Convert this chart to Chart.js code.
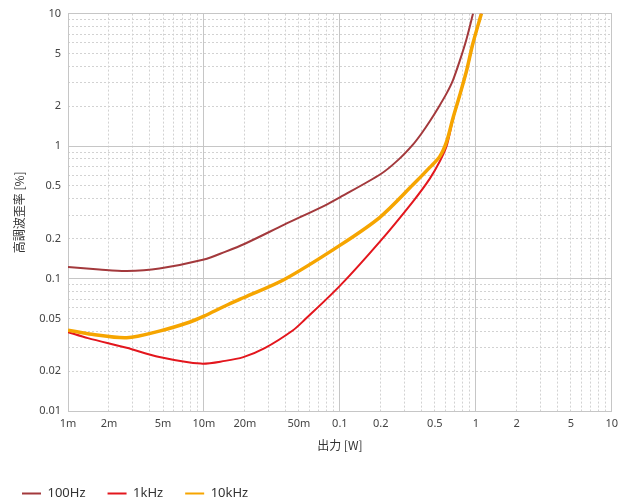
<!DOCTYPE html>
<html>
<head>
<meta charset="utf-8">
<script src="https://cdn.jsdelivr.net/npm/chart.js@4.4.1/dist/chart.umd.min.js"></script>
<style>
  body { margin: 0; background: #fff; }
  canvas { display: block; }
</style>
</head>
<body>
<canvas id="thdChart" width="624" height="500"></canvas>
<script>
// distortion vs output power
const seriesNames = ['100Hz', '1kHz', '10kHz'];
const seriesColors = ['#a3393c', '#e3161d', '#f6a500'];
const seriesWidths = [2, 2, 3.5];

const x100Hz = [0.001, 0.0017, 0.0027, 0.0047, 0.01, 0.0143, 0.02, 0.039, 0.078, 0.1, 0.2, 0.27, 0.346, 0.4, 0.459, 0.53, 0.61, 0.68, 0.762, 0.85, 0.955];
const y100Hz = [0.122, 0.117, 0.114, 0.119, 0.139, 0.159, 0.183, 0.255, 0.357, 0.41, 0.615, 0.79, 1.03, 1.25, 1.54, 1.95, 2.5, 3.15, 4.4, 6.3, 10];

const x1kHz = [0.001, 0.0014, 0.0027, 0.0047, 0.0095, 0.0143, 0.0195, 0.028, 0.045, 0.0553, 0.1, 0.197, 0.346, 0.459, 0.544, 0.61, 0.68, 0.76, 0.855, 0.95, 1.1];
const y1kHz = [0.0394, 0.0355, 0.030, 0.0256, 0.0228, 0.0239, 0.0255, 0.0298, 0.0405, 0.049, 0.088, 0.19, 0.383, 0.568, 0.767, 1.0, 1.6, 2.38, 3.65, 5.85, 10];

const x10kHz = [0.001, 0.0015, 0.0027, 0.0047, 0.0079, 0.01, 0.0143, 0.0195, 0.039, 0.1, 0.197, 0.346, 0.459, 0.544, 0.61, 0.68, 0.76, 0.855, 0.95, 1.1];
const y10kHz = [0.0408, 0.0379, 0.0357, 0.0401, 0.047, 0.052, 0.062, 0.0716, 0.0984, 0.178, 0.29, 0.512, 0.69, 0.836, 1.08, 1.63, 2.4, 3.7, 5.9, 10];

const xTickValues = [0.001, 0.002, 0.005, 0.01, 0.02, 0.05, 0.1, 0.2, 0.5, 1, 2, 5, 10];
const xTickLabels = ['1m', '2m', '5m', '10m', '20m', '50m', '0.1', '0.2', '0.5', '1', '2', '5', '10'];
const yTickValues = [0.01, 0.02, 0.05, 0.1, 0.2, 0.5, 1, 2, 5, 10];
const yTickLabels = ['0.01', '0.02', '0.05', '0.1', '0.2', '0.5', '1', '2', '5', '10'];
const xDecades = [0.001, 0.01, 0.1, 1, 10];
const yDecades = [0.01, 0.1, 1, 10];

const xTitle = '出力 [W]';
const yTitle = '高調波歪率 [%]';

function toPoints(xs, ys) {
  return xs.map((x, i) => ({ x: x, y: ys[i] }));
}

// 1..9 per decade, for the dotted minor grid
function gridValues(decades) {
  const out = [];
  decades.forEach((d, k) => {
    const steps = k === decades.length - 1 ? 1 : 9;
    for (let m = 1; m <= steps; m++) out.push(m * d);
  });
  return out;
}

function findIndex(list, value) {
  return list.findIndex(v => Math.abs(v - value) < v * 1e-6);
}

function labelFor(values, labels) {
  return function (value) {
    const i = findIndex(values, value);
    return i >= 0 ? labels[i] : '';
  };
}

function minorColor(decades) {
  return function (c) {
    if (!c.tick) return 'rgba(0,0,0,0)';
    return findIndex(decades, c.tick.value) >= 0 ? 'rgba(0,0,0,0)' : '#d2d2d2';
  };
}

const tickFont = { family: "'Noto Sans', sans-serif", size: 11 };
const titleFont = { family: "'Noto Sans CJK JP', sans-serif", size: 12 };

const series = [
  toPoints(x100Hz, y100Hz),
  toPoints(x1kHz, y1kHz),
  toPoints(x10kHz, y10kHz)
];

const datasets = series.map((pts, i) => ({
  label: seriesNames[i],
  data: pts,
  borderColor: seriesColors[i],
  backgroundColor: seriesColors[i],
  borderWidth: seriesWidths[i],
  pointRadius: 0,
  tension: 0.3,
  order: i === 2 ? 0 : i + 1 // orange drawn on top
}));

const ctx = document.getElementById('thdChart').getContext('2d');

new Chart(ctx, {
  type: 'line',
  data: { datasets: datasets },
  options: {
    responsive: false,
    animation: false,
    layout: { padding: { top: 12, right: 12, left: 0, bottom: -10 } },
    plugins: {
      tooltip: { enabled: false },
      legend: {
        position: 'bottom',
        align: 'start',
        labels: {
          boxWidth: 19,
          boxHeight: 2,
          padding: 22,
          color: '#333',
          font: { family: "'Noto Sans', sans-serif", size: 13 },
          sort: (a, b) => a.datasetIndex - b.datasetIndex,
          generateLabels: function (chart) {
            return Chart.defaults.plugins.legend.labels.generateLabels(chart).map(item =>
              Object.assign(item, { lineWidth: 0, fillStyle: item.strokeStyle }));
          }
        }
      }
    },
    scales: {
      x: {
        type: 'logarithmic',
        position: 'bottom',
        min: 0.001,
        max: 10,
        afterBuildTicks: s => { s.ticks = gridValues(xDecades).map(v => ({ value: v })); },
        afterFit: s => { s.height = 54; },
        grid: { color: minorColor(xDecades), drawTicks: false },
        border: { display: false, dash: [2, 2] },
        ticks: {
          autoSkip: false,
          maxRotation: 0,
          padding: 6,
          color: '#444',
          font: tickFont,
          callback: labelFor(xTickValues, xTickLabels)
        },
        title: { display: true, text: xTitle, color: '#333', font: titleFont, padding: { top: 4, bottom: 12 } }
      },
      y: {
        type: 'logarithmic',
        position: 'left',
        min: 0.01,
        max: 10,
        afterBuildTicks: s => { s.ticks = gridValues(yDecades).map(v => ({ value: v })); },
        afterFit: s => { s.width = 68; },
        grid: { color: minorColor(yDecades), drawTicks: false },
        border: { display: false, dash: [2, 2] },
        ticks: {
          autoSkip: false,
          padding: 7,
          color: '#444',
          font: tickFont,
          callback: labelFor(yTickValues, yTickLabels)
        },
        title: { display: true, text: yTitle, color: '#333', font: titleFont, padding: { top: 12, bottom: 0 } }
      },
      // solid decade lines and frame
      xMajor: {
        type: 'logarithmic',
        position: 'top',
        min: 0.001,
        max: 10,
        afterBuildTicks: s => { s.ticks = xDecades.map(v => ({ value: v })); },
        afterFit: s => { s.height = 0; },
        grid: { color: '#c6c6c6', drawTicks: false },
        border: { display: false },
        ticks: { display: false }
      },
      yMajor: {
        type: 'logarithmic',
        position: 'right',
        min: 0.01,
        max: 10,
        afterBuildTicks: s => { s.ticks = yDecades.map(v => ({ value: v })); },
        afterFit: s => { s.width = 0; },
        grid: { color: '#c6c6c6', drawTicks: false },
        border: { display: false },
        ticks: { display: false }
      }
    }
  }
});
</script>
</body>
</html>
